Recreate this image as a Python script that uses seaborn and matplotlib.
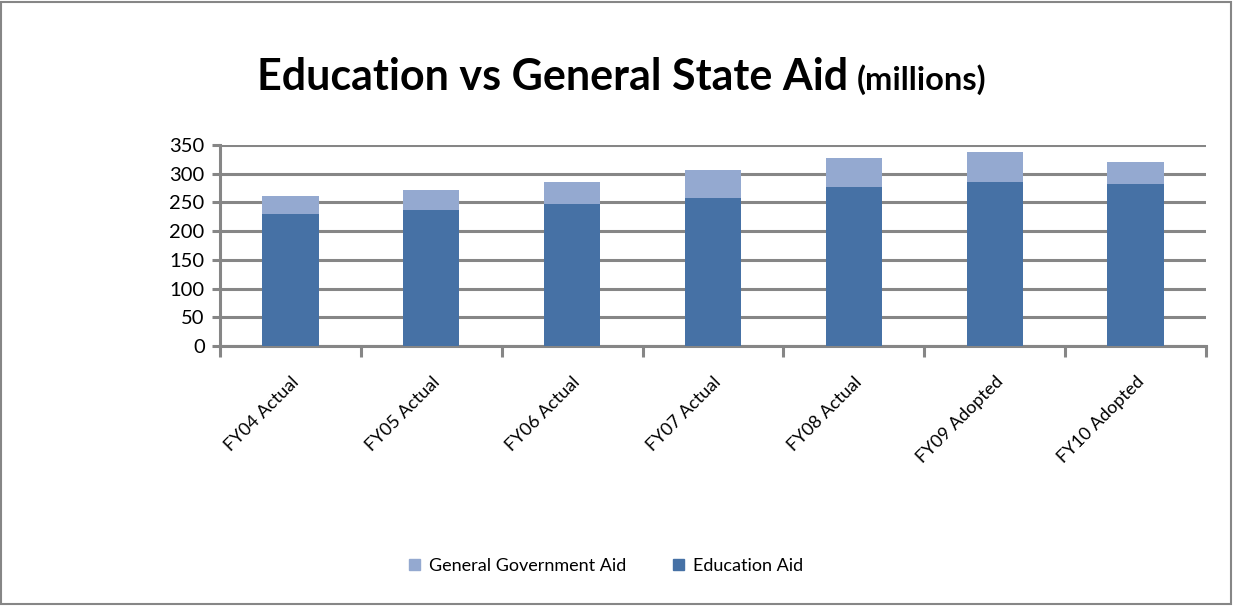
import matplotlib
matplotlib.use("Agg")
import matplotlib.pyplot as plt
import matplotlib.patches as mpatches
import seaborn as sns
import pandas as pd

categories = ["FY04 Actual", "FY05 Actual", "FY06 Actual", "FY07 Actual",
              "FY08 Actual", "FY09 Adopted", "FY10 Adopted"]
education_aid = [229, 236, 247, 258, 277, 285, 282]
general_aid = [32, 35, 38, 48, 50, 52, 38]
yticks = [0, 50, 100, 150, 200, 250, 300, 350]

dark = "#4671A5"
light = "#94A9D0"
grid_c = "#868686"

df = pd.DataFrame({"cat": categories, "edu": education_aid, "gen": general_aid})
df["total"] = df["edu"] + df["gen"]

sns.set_theme(style="white")
plt.rcParams["font.family"] = ["Lato", "DejaVu Sans"]
plt.rcParams["text.color"] = "black"

fig = plt.figure(figsize=(12.33, 6.06), dpi=100)
ax = fig.add_axes([220/1233, 1-346/606, (1206-220)/1233, (346-145)/606])

sns.barplot(data=df, x="cat", y="total", color=light, width=0.4, ax=ax,
            saturation=1, linewidth=0, zorder=3)
sns.barplot(data=df, x="cat", y="edu", color=dark, width=0.4, ax=ax,
            saturation=1, linewidth=0, zorder=3)

ax.set_ylim(0, 350)
ax.set_xlim(-0.5, len(categories) - 0.5)
ax.set_yticks(yticks)
ax.set_yticklabels([str(v) for v in yticks], fontsize=14.5)
ax.yaxis.grid(True, color=grid_c, linewidth=2.2, zorder=0)
ax.set_axisbelow(True)
ax.set_xlabel("")
ax.set_ylabel("")

for s in ["top", "right"]:
    ax.spines[s].set_visible(False)
for s in ["left", "bottom"]:
    ax.spines[s].set_visible(True)
    ax.spines[s].set_color(grid_c)
    ax.spines[s].set_linewidth(2.2)

ax.tick_params(axis="y", which="major", left=True, length=6, width=2.2,
               color=grid_c, pad=5, labelcolor="black")
ax.set_xticks(range(len(categories)))
ax.set_xticklabels(categories, rotation=45, ha="right", rotation_mode="anchor",
                   fontsize=13)
ax.tick_params(axis="x", which="major", length=0, pad=20, labelcolor="black")
ax.set_xticks([i - 0.5 for i in range(len(categories) + 1)], minor=True)
ax.tick_params(axis="x", which="minor", bottom=True, length=8, width=2.2,
               color=grid_c)

fig.text(848/1233, 1-90/606, "Education vs General State Aid",
         fontsize=31, fontweight="bold", ha="right", va="baseline", color="black")
fig.text(857/1233, 1-90/606, "(millions)",
         fontsize=23.5, fontweight="bold", ha="left", va="baseline", color="black")

handles = [mpatches.Patch(color=light, label="General Government Aid"),
           mpatches.Patch(color=dark, label="Education Aid")]
fig.legend(handles=handles, loc="center", bbox_to_anchor=(606/1233, 1-566/606),
           ncol=2, frameon=False, fontsize=13, handlelength=0.6,
           handleheight=0.6, columnspacing=2.6, handletextpad=0.5,
           labelcolor="black")

border = mpatches.Rectangle((0.001, 0.003), 0.997, 0.993, transform=fig.transFigure,
                            fill=False, edgecolor=grid_c, linewidth=1.5)
fig.patches.append(border)

fig.savefig("out.png", dpi=100)
